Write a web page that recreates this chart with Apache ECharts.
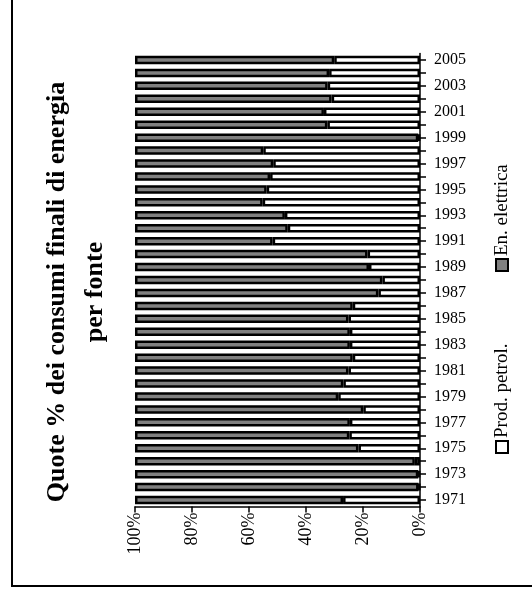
<!DOCTYPE html>
<html>
<head>
<meta charset="utf-8">
<script src="https://cdn.jsdelivr.net/npm/echarts@6/dist/echarts.min.js"></script>
<style>
html,body{margin:0;padding:0;background:#fff;}
#chart{width:532px;height:596px;}
</style>
</head>
<body>
<div id="chart"></div>
<script>
// Categories (years)
const years = ['1971','1972','1973','1974','1975','1976','1977','1978','1979','1980',
  '1981','1982','1983','1984','1985','1986','1987','1988','1989','1990',
  '1991','1992','1993','1994','1995','1996','1997','1998','1999','2000',
  '2001','2002','2003','2004','2005'];

// Series values (% shares)
const prodPetrol = [27.0, 0.5, 0.6, 1.8, 21.6, 24.8, 24.6, 19.9, 28.7, 26.9,
  25.1, 23.6, 24.6, 24.6, 25.1, 23.6, 14.6, 13.2, 17.9, 18.4,
  51.7, 46.4, 47.4, 55.2, 53.8, 52.6, 51.5, 55.0, 0.6, 32.5,
  33.7, 31.0, 32.4, 31.9, 30.1];
const enElettrica = [73.0, 99.5, 99.4, 98.2, 78.4, 75.2, 75.4, 80.1, 71.3, 73.1,
  74.9, 76.4, 75.4, 75.4, 74.9, 76.4, 85.4, 86.8, 82.1, 81.6,
  48.3, 53.6, 52.6, 44.8, 46.2, 47.4, 48.5, 45.0, 99.4, 67.5,
  66.3, 69.0, 67.6, 68.1, 69.9];

const seriesNames = ['Prod. petrol.', 'En. elettrica'];
const titleLines = ['Quote % dei consumi finali di energia', 'per fonte'];

const SERIF = '"Liberation Serif", "Times New Roman", serif';
const chart = echarts.init(document.getElementById('chart'), null, {renderer: 'canvas'});

function rotText(x, y, text, font) {
  return {
    type: 'text', x: x, y: y, rotation: Math.PI / 2, silent: true,
    style: {text: text, font: font, fill: '#000',
      textAlign: 'center', textVerticalAlign: 'middle'}
  };
}
function legendItem(x, y, name, fill) {
  return {
    type: 'group', x: x, y: y, rotation: Math.PI / 2, silent: true,
    children: [
      {type: 'rect', shape: {x: -6, y: -6, width: 12, height: 12},
        style: {fill: fill, stroke: '#000', lineWidth: 2}},
      {type: 'text', x: 9, y: 0,
        style: {text: name, font: '19px ' + SERIF, fill: '#000',
          textAlign: 'left', textVerticalAlign: 'middle'}}
    ]
  };
}

chart.setOption({
  animation: false,
  backgroundColor: '#fff',
  grid: {left: 135, right: 112, top: 53.5, bottom: 89.5, containLabel: false, outerBoundsMode: 'none'},
  xAxis: {
    type: 'value', min: 0, max: 100, interval: 20, inverse: true,
    splitLine: {show: false},
    axisLine: {show: true, lineStyle: {color: '#000', width: 1.5}},
    axisTick: {show: true, length: 6, lineStyle: {color: '#000', width: 1.5}},
    axisLabel: {rotate: 90, margin: 6, color: '#000', fontFamily: SERIF, fontSize: 18,
      formatter: '{value}%'}
  },
  yAxis: {
    type: 'category', position: 'right', data: years,
    axisLine: {show: true, lineStyle: {color: '#000', width: 1.5}},
    axisTick: {show: true, length: 6, interval: 0, alignWithLabel: true, lineStyle: {color: '#000', width: 1.5}},
    axisLabel: {interval: 1, margin: 14, color: '#000', fontFamily: SERIF, fontSize: 16}
  },
  series: [
    {name: seriesNames[0], type: 'bar', stack: 'tot', data: prodPetrol, barWidth: 8.5,
      itemStyle: {color: '#ffffff', borderColor: '#000', borderWidth: 2.5}},
    {name: seriesNames[1], type: 'bar', stack: 'tot', data: enElettrica, barWidth: 8.5,
      itemStyle: {color: '#808080', borderColor: '#000', borderWidth: 2.5}}
  ],
  graphic: [
    {type: 'rect', silent: true, z: -10, shape: {x: 12, y: -10, width: 540, height: 596},
      style: {fill: 'none', stroke: '#000', lineWidth: 2}},
    rotText(57, 292, titleLines[0], 'bold 26px ' + SERIF),
    rotText(95, 292, titleLines[1], 'bold 26px ' + SERIF),
    legendItem(502, 447, seriesNames[0], '#ffffff'),
    legendItem(502, 265, seriesNames[1], '#808080')
  ]
});
</script>
</body>
</html>
